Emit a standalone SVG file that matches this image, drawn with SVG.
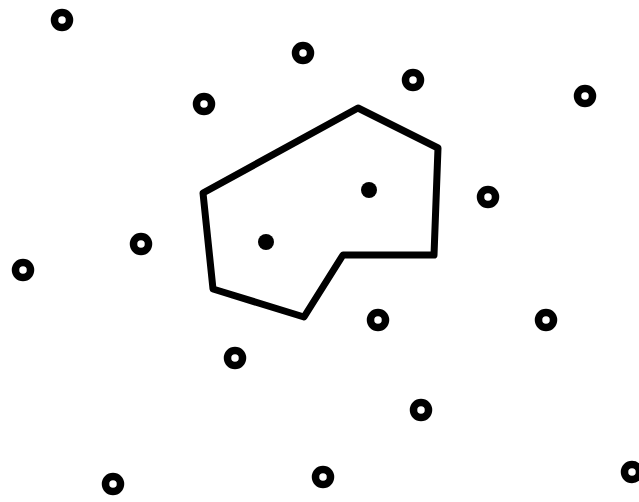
<svg xmlns="http://www.w3.org/2000/svg" width="639" height="502" viewBox="0 0 639 502">
<style>
.ring{fill:none;stroke:#000;stroke-width:7.5}
.dot{fill:#000}
.poly{fill:none;stroke:#000;stroke-width:7;stroke-linejoin:round}
</style>
<rect width="639" height="502" fill="#fff"/>
<g id="polygon"><polygon class="poly" points="358,108 438,148 434,255 343,255 304,317 213,289 203,193"/></g>
<g id="dots">
<circle class="dot" cx="369" cy="190" r="8"/>
<circle class="dot" cx="266" cy="242" r="8"/>
</g>
<g id="rings">
<circle class="ring" cx="62" cy="20" r="7.5"/>
<circle class="ring" cx="303" cy="53" r="7.5"/>
<circle class="ring" cx="413" cy="80" r="7.5"/>
<circle class="ring" cx="204" cy="104" r="7.5"/>
<circle class="ring" cx="585" cy="96" r="7.5"/>
<circle class="ring" cx="488" cy="197" r="7.5"/>
<circle class="ring" cx="141" cy="244" r="7.5"/>
<circle class="ring" cx="23" cy="270" r="7.5"/>
<circle class="ring" cx="378" cy="320" r="7.5"/>
<circle class="ring" cx="546" cy="320" r="7.5"/>
<circle class="ring" cx="235" cy="358" r="7.5"/>
<circle class="ring" cx="421" cy="410" r="7.5"/>
<circle class="ring" cx="113" cy="484" r="7.5"/>
<circle class="ring" cx="323" cy="477" r="7.5"/>
<circle class="ring" cx="632" cy="472" r="7.5"/>
</g>
</svg>
